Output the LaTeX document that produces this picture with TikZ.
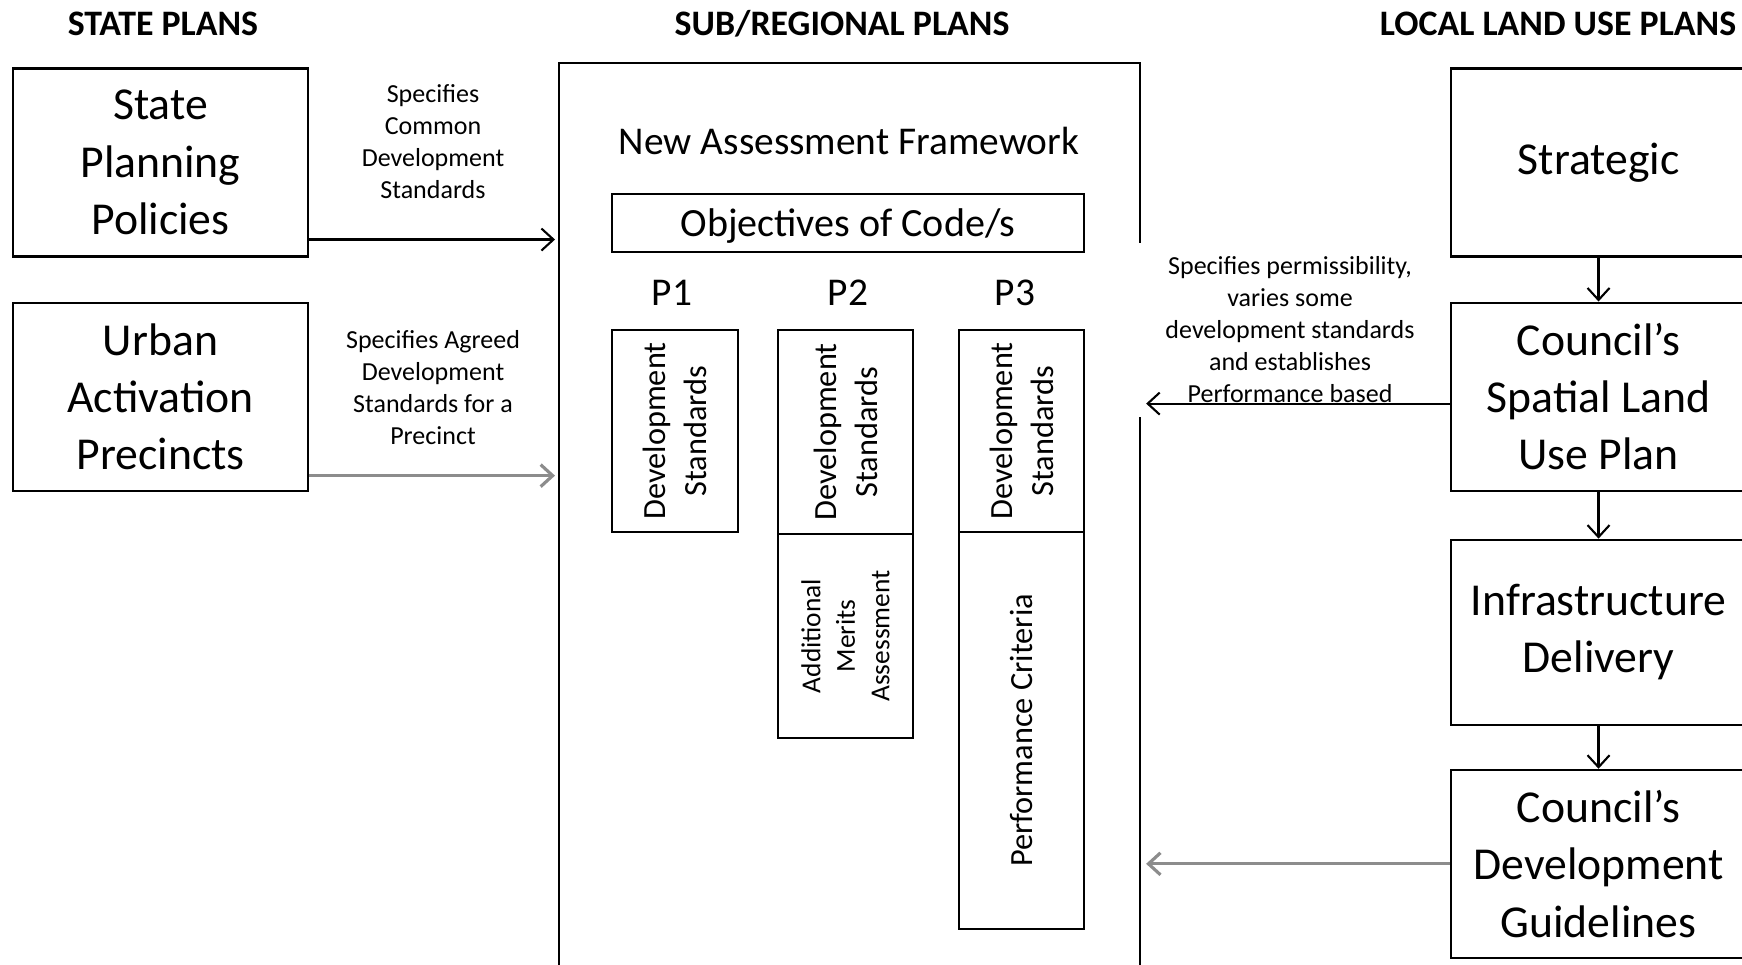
\documentclass[tikz,border=0pt]{standalone}
\usepackage{fontspec}
\setmainfont{Carlito}
\usetikzlibrary{arrows.meta, positioning, calc}

\begin{document}
\begin{tikzpicture}[
	plan/.style={draw, line width=0.6pt, minimum width=2.95cm, minimum height=1.88cm, inner sep=0pt, align=center, font=\fontsize{13}{16.3}\selectfont},
	heading/.style={font=\fontsize{10.2}{12}\selectfont\bfseries},
	note/.style={align=center, font=\fontsize{7.4}{9.1}\selectfont},
	part/.style={draw, line width=0.6pt, inner sep=0pt, align=center, rotate=90, font=\fontsize{9.2}{11.7}\selectfont},
	flow/.style={line width=0.6pt, -{Straight Barb[length=1.2mm,width=2.2mm]}},
	soft/.style={flow, line width=0.9pt, black!45},
	]
	\useasboundingbox (0,0) rectangle (17.42,9.65);
	\node[heading] (hstate) at (1.63,9.41) {STATE PLANS};
	\node[heading] (hsub) at (8.42,9.41) {SUB/REGIONAL PLANS};
	\node[heading] (hlocal) at (15.58,9.41) {LOCAL LAND USE PLANS};
	% state plans
	\node[plan] (spp) at (1.605,8.025) {State\\Planning\\Policies};
	\node[plan, below=0.44cm of spp] (uap) {Urban\\Activation\\Precincts};
	\node[note] (lcommon) at (4.33,8.23) {Specifies\\Common\\Development\\Standards};
	\node[note] (lagreed) at (4.33,5.77) {Specifies Agreed\\Development\\Standards for a\\Precinct};
	% sub/regional frame
	\node[draw, line width=0.6pt, inner sep=0pt, minimum width=5.81cm, minimum height=9.6cm, anchor=north west] (frame) at (5.58,9.03) {};
	\node[font=\fontsize{11.2}{13}\selectfont] (naf) at (8.49,8.24) {New Assessment Framework};
	\node[draw, line width=0.6pt, inner sep=0pt, minimum width=4.72cm, minimum height=0.58cm, text depth=0pt, font=\fontsize{11.4}{13}\selectfont] (obj) at (8.48,7.42) {Objectives of Code/s};
	\foreach \n/\x in {1/6.72, 2/8.48, 3/10.15}
	\node[font=\fontsize{11.2}{13}\selectfont] (p\n) at (\x,6.72) {P\n};
	\node[part, minimum width=2.02cm, minimum height=1.26cm] (ds1) at (6.75,5.34) {Development\\Standards};
	\node[part, minimum width=2.04cm, minimum height=1.35cm] (ds2) at (8.455,5.33) {Development\\Standards};
	\node[part, minimum width=2.04cm, minimum height=1.35cm, font=\fontsize{7.8}{9.8}\selectfont] (ama) at (8.455,3.29) {Additional\\Merits\\Assessment};
	\node[part, minimum width=2.02cm, minimum height=1.25cm] (ds3) at (10.215,5.34) {Development\\Standards};
	\node[part, minimum width=3.97cm, minimum height=1.25cm] (perf) at (10.215,2.345) {Performance Criteria};
	% local land use plans
	\node[plan] (strat) at (15.985,8.025) {Strategic};
	\node[plan, below=0.44cm of strat] (spatial) {Council’s\\Spatial Land\\Use Plan};
	\node[plan, below=0.47cm of spatial, minimum height=1.85cm] (infra) {Infrastructure\\Delivery};
	\node[plan, below=0.43cm of infra] (guide) {Council’s\\Development\\Guidelines};
	\node[note, fill=white, inner sep=0pt, minimum width=3.1cm, minimum height=1.74cm] (lperm) at (12.9,6.35) {Specifies permissibility,\\varies some\\development standards\\and establishes\\Performance based};
	\draw[flow] ([yshift=0.18cm]spp.south east) -- ($(frame.west |- spp.south east)+(-0.03,0.18)$);
	\draw[soft] ([yshift=0.16cm]uap.south east) -- ($(frame.west |- uap.south east)+(-0.03,0.16)$);
	\draw[flow] ([yshift=-0.07cm]spatial.west) -- ($(frame.east |- spatial.west)+(0.05,-0.07)$);
	\draw[soft] (guide.west) -- ($(frame.east |- guide.west)+(0.05,0)$);
	\draw[flow] (strat) -- (spatial);
	\draw[flow] (spatial) -- (infra);
	\draw[flow] (infra) -- (guide);
\end{tikzpicture}
\end{document}
